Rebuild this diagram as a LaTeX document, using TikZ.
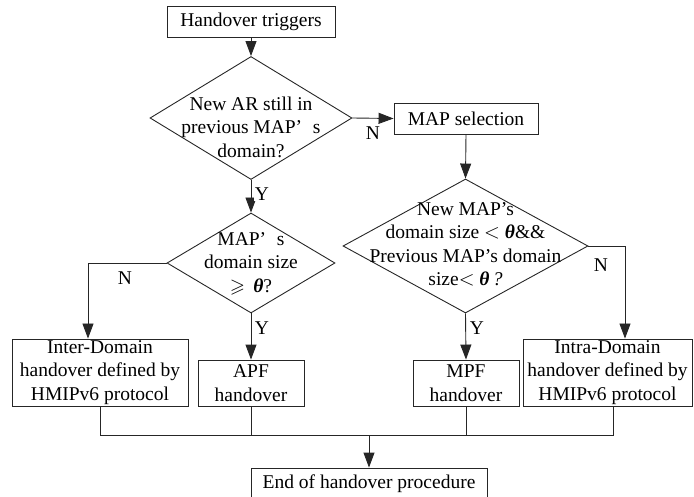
\documentclass[tikz,border=0pt]{standalone}
\usepackage{amssymb}
\usepackage{fontspec}
\setmainfont{Liberation Serif}
\usetikzlibrary{shapes.geometric,arrows.meta}

% centred multi-line text that does not enlarge its node
\newcommand{\dtext}[2]{\makebox[0pt]{\raisebox{#1}[0pt][0pt]{\begin{tabular}{@{}c@{}}#2\end{tabular}}}}
\newcommand{\bth}{{\bfseries\itshape θ}}

\begin{document}
\begin{tikzpicture}[x=1pt,y=-1pt,
  every node/.style={font=\fontsize{19.5}{23.5}\selectfont, text=black},
  box/.style={draw=black!85, line width=0.9pt, inner sep=0pt, align=center},
  dia/.style={draw=black!85, line width=0.9pt, diamond, inner sep=0pt},
  flow/.style={draw=black!85, line width=0.9pt, -{Triangle[length=15pt,width=11pt]}},
  mergeline/.style={draw=black!85, line width=0.9pt},
  lab/.style={inner sep=1pt}
]
\useasboundingbox (0,0) rectangle (694,497);

% process boxes
\node[box, minimum width=168pt, minimum height=31pt] (trig) at (251,21.5) {Handover triggers};
\node[box, minimum width=144pt, minimum height=31pt] (map) at (466,118.5) {MAP selection};
\node[box, minimum width=176pt, minimum height=67pt] (inter) at (100,372.5) {Inter-Domain\\handover defined by\\HMIPv6 protocol};
\node[box, minimum width=106pt, minimum height=46pt] (apf) at (251,383) {APF\\handover};
\node[box, minimum width=106pt, minimum height=46pt] (mpf) at (466,383) {MPF\\handover};
\node[box, minimum width=169pt, minimum height=67pt] (intra) at (607.5,372.5) {Intra-Domain\\handover defined by\\HMIPv6 protocol};
\node[box, minimum width=236pt, minimum height=31pt] (end) at (369,483.5) {End of handover procedure};

% decisions
\node[dia, minimum width=202pt, minimum height=123pt] (d1) at (251,118)
  {\dtext{-16pt}{New AR still in\\previous MAP’\hspace{0.55em}s\\domain?}};
\node[dia, minimum width=168pt, minimum height=100pt] (d2) at (251,263)
  {\dtext{-6pt}{MAP’\hspace{0.55em}s\\domain size\\$\geqslant$\, \bth?}};
\node[dia, minimum width=245pt, minimum height=134pt] (d3) at (465.5,246)
  {\dtext{-5pt}{New MAP’s\\domain size $<$ \bth\&\&\\Previous MAP’s domain\\size$<$ \bth\,\textit{?}}};

% connectors
\draw[flow] (trig) -- (d1);
\draw[flow] (d1.east) -- (map.west);
\draw[flow] (d1.south) -- (d2.north);
\draw[flow] (d2.west) -| ([xshift=-12pt]inter.north);
\draw[flow] (d2.south) -- (apf.north);
\draw[flow] (map.south) -- (d3.north);
\draw[flow] (d3.east) -| ([xshift=17.5pt]intra.north);
\draw[flow] (d3.south) -- (mpf.north);

% merge into the final step
\coordinate (m) at (369,435);
\draw[mergeline] (inter.south) |- (m);
\draw[mergeline] (apf.south) |- (m);
\draw[mergeline] (mpf.south) |- (m);
\draw[mergeline] ([xshift=5.5pt]intra.south) |- (m);
\draw[flow] (m) -- (end.north);

% branch labels
\node[lab] (n1) at (373,133) {N};
\node[lab, fill=white] (y1) at (262,194) {Y};
\node[lab] (n2) at (125,278) {N};
\node[lab, fill=white] (y2) at (262,328) {Y};
\node[lab] (n3) at (601,265) {N};
\node[lab, fill=white] (y3) at (477,328) {Y};
\end{tikzpicture}
\end{document}
